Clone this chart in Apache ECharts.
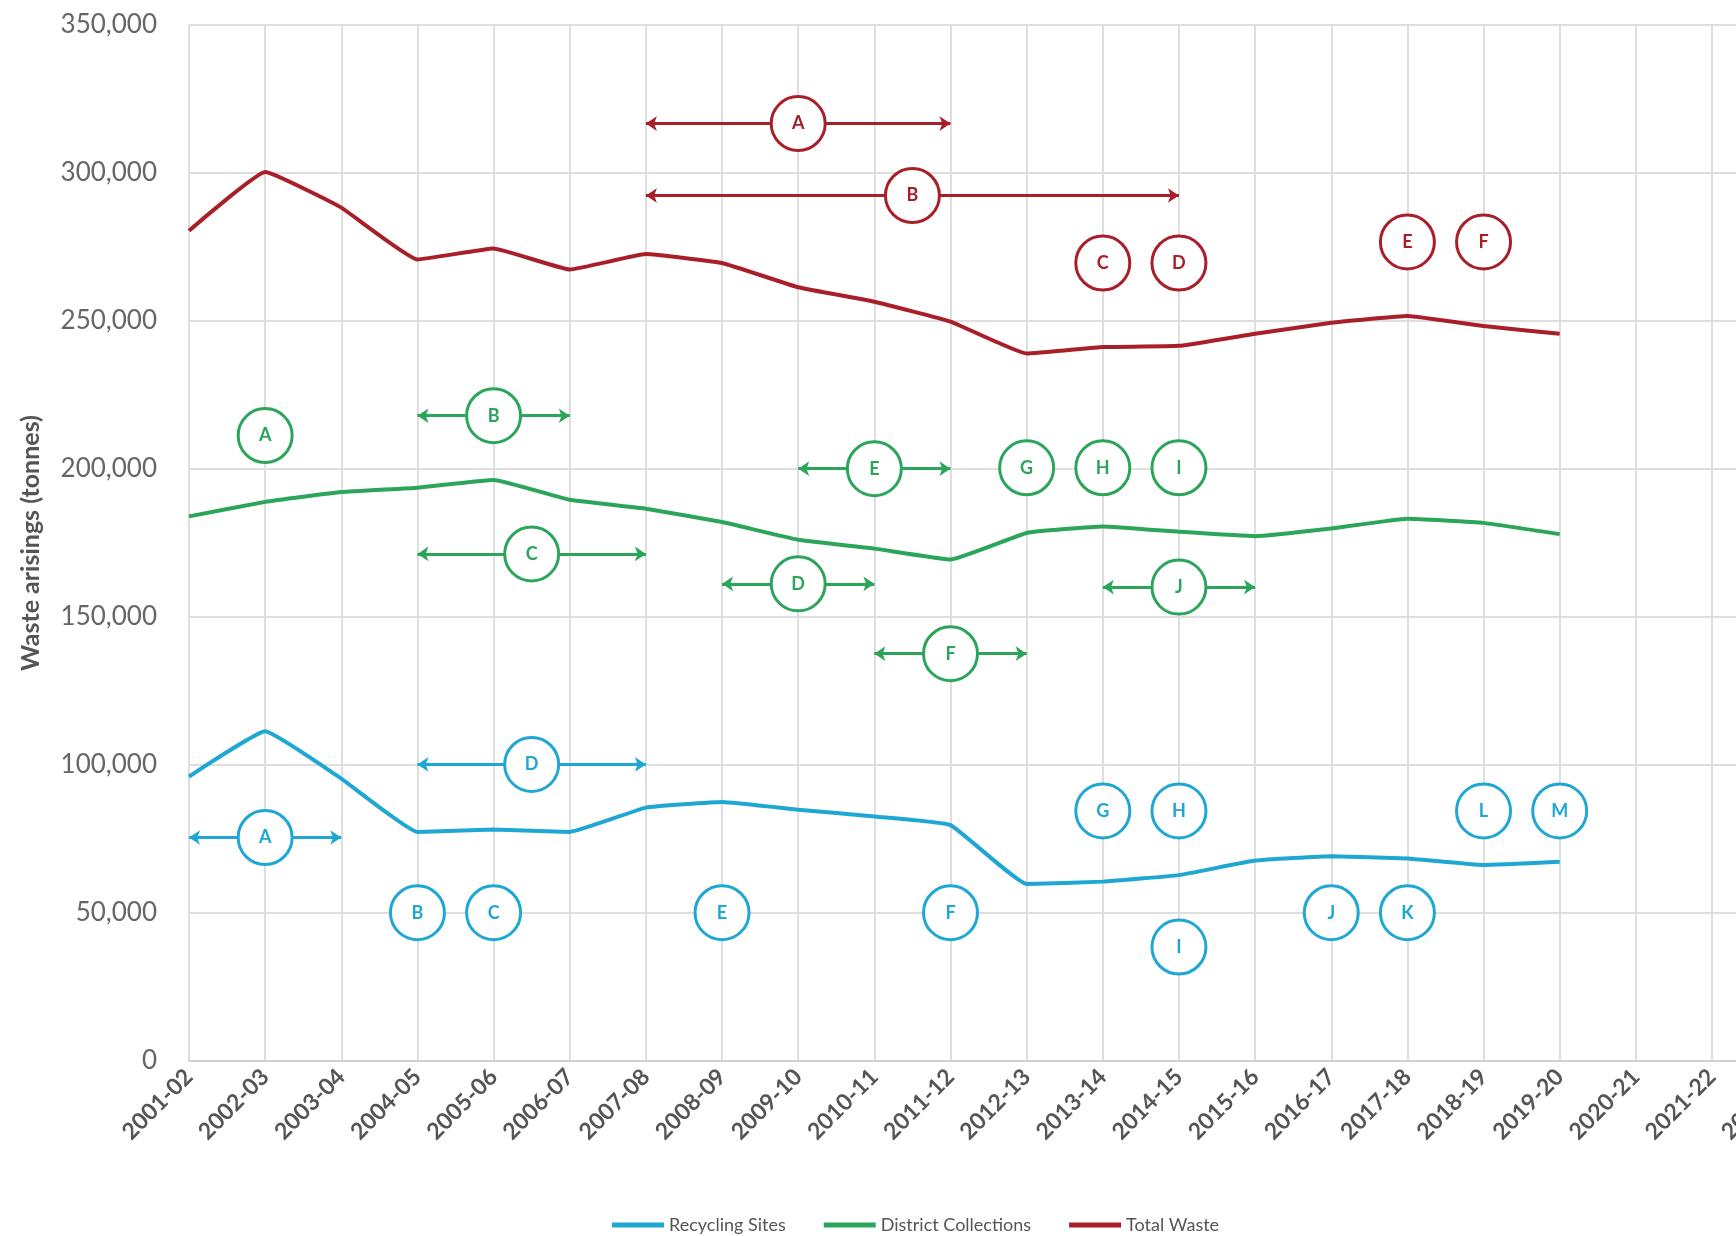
<!DOCTYPE html>
<html><head><meta charset="utf-8">
<script src="https://cdn.jsdelivr.net/npm/echarts@6/dist/echarts.min.js"></script>
<style>html,body{margin:0;padding:0;background:#fff}#c{width:1736px;height:1236px}</style>
</head><body><div id="c"></div>
<script>
const categories = ['2001-02','2002-03','2003-04','2004-05','2005-06','2006-07','2007-08','2008-09','2009-10','2010-11','2011-12','2012-13','2013-14','2014-15','2015-16','2016-17','2017-18','2018-19','2019-20','2020-21','2021-22','2022-23'];
const recyclingSites = [96100,111400,95400,77400,78200,77400,85600,87500,84900,82600,79700,59800,60600,62800,67700,69200,68400,66200,67300];
const districtCollections = [184000,188900,192200,193700,196300,189600,186600,182100,176100,173100,169400,178400,180600,178800,177300,179900,183200,181800,178000];
const totalWaste = [280500,300300,288300,270800,274500,267400,272600,269600,261400,256500,249800,239000,241200,241600,245700,249400,251700,248300,245700];
const yTicks = [0,50000,100000,150000,200000,250000,300000,350000];

// annotation markers: [letter, category index, value]
const totalNotes = [['A',8,316700],['B',9.5,292400],['C',12,269600],['D',13,269600],['E',16,276700],['F',17,276700]];
const totalArrows = [[6,10,316700],[6,13,292400]];
const districtNotes = [['A',1,211300],['B',4,218000],['C',4.5,171300],['D',8,161200],['E',9,200100],['F',10,137600],['G',11,200400],['H',12,200400],['I',13,200400],['J',13,160100]];
const districtArrows = [[3,5,218000],[3,6,171300],[7,9,161200],[8,10,200100],[9,11,137600],[12,14,160100]];
const recyclingNotes = [['A',1,75500],['B',3,50100],['C',4,50100],['D',4.5,100200],['E',7,50100],['F',10,50100],['G',12,84500],['H',13,84500],['I',13,38500],['J',15,50100],['K',16,50100],['L',17,84500],['M',18,84500]];
const recyclingArrows = [[0,2,75500],[3,6,100200]];

const RED = '#A91F29', GREEN = '#2AA55A', BLUE = '#1FA7D4';
const FONT = 'Lato';

function lineSeries(name, vals, color) {
  return { name, type:'line', data: vals.map((v,i)=>[i,v]), showSymbol:false, smooth:0.1,
    lineStyle:{color, width:4}, itemStyle:{color}, z:3 };
}
function noteSeries(notes, color) {
  return { type:'scatter', data: notes.map(n=>[n[1],n[2],n[0]]), symbol:'circle', symbolSize:54,
    itemStyle:{color:'#fff', borderColor:color, borderWidth:3, opacity:1}, z:6,
    label:{show:true, position:'inside', formatter:p=>p.data[2], color:color, fontFamily:FONT, fontWeight:'bold', fontSize:18},
    emphasis:{disabled:true}, silent:true };
}
function arrowSeries(arrows, color) {
  return { type:'lines', coordinateSystem:'cartesian2d', data: arrows.map(a=>({coords:[[a[0],a[2]],[a[1],a[2]]]})),
    symbol:['arrow','arrow'], symbolSize:11, lineStyle:{color, width:3, opacity:1}, z:5, silent:true };
}

const chart = echarts.init(document.getElementById('c'));
chart.setOption({
  animation:false,
  backgroundColor:'#fff',
  grid:{left:189, top:25, bottom:175, width:21*76.15, outerBoundsMode:'none', containLabel:false},
  legend:{data:['Recycling Sites','District Collections','Total Waste'], left:607, top:1211, icon:'rect', itemWidth:52, itemHeight:5, itemGap:38,
    textStyle:{fontFamily:FONT, fontSize:18, color:'#555'}},
  xAxis:{type:'value', min:0, max:categories.length-1, interval:1,
    axisLabel:{formatter:v=>categories[v]||'', rotate:45, fontFamily:FONT, fontSize:23, fontWeight:'bold', color:'#555', margin:12},
    axisTick:{show:false}, axisLine:{show:true, lineStyle:{color:'#d0d0d0', width:2}},
    splitLine:{show:true, lineStyle:{color:'#dedede', width:2}}},
  yAxis:{type:'value', min:yTicks[0], max:yTicks[yTicks.length-1], interval:50000,
    name:'Waste arisings (tonnes)', nameLocation:'middle', nameGap:146, nameRotate:90,
    nameTextStyle:{fontFamily:FONT, fontSize:25, fontWeight:'bold', color:'#555'},
    axisLabel:{formatter:v=>v.toLocaleString('en-US'), fontFamily:FONT, fontSize:26, color:'#666', margin:32},
    axisLine:{show:false}, axisTick:{show:false},
    splitLine:{lineStyle:{color:'#dedede', width:2}}},
  series:[
    lineSeries('Recycling Sites', recyclingSites, BLUE),
    lineSeries('District Collections', districtCollections, GREEN),
    lineSeries('Total Waste', totalWaste, RED),
    arrowSeries(totalArrows, RED), arrowSeries(districtArrows, GREEN), arrowSeries(recyclingArrows, BLUE),
    noteSeries(totalNotes, RED), noteSeries(districtNotes, GREEN), noteSeries(recyclingNotes, BLUE)
  ]
});
</script></body></html>
